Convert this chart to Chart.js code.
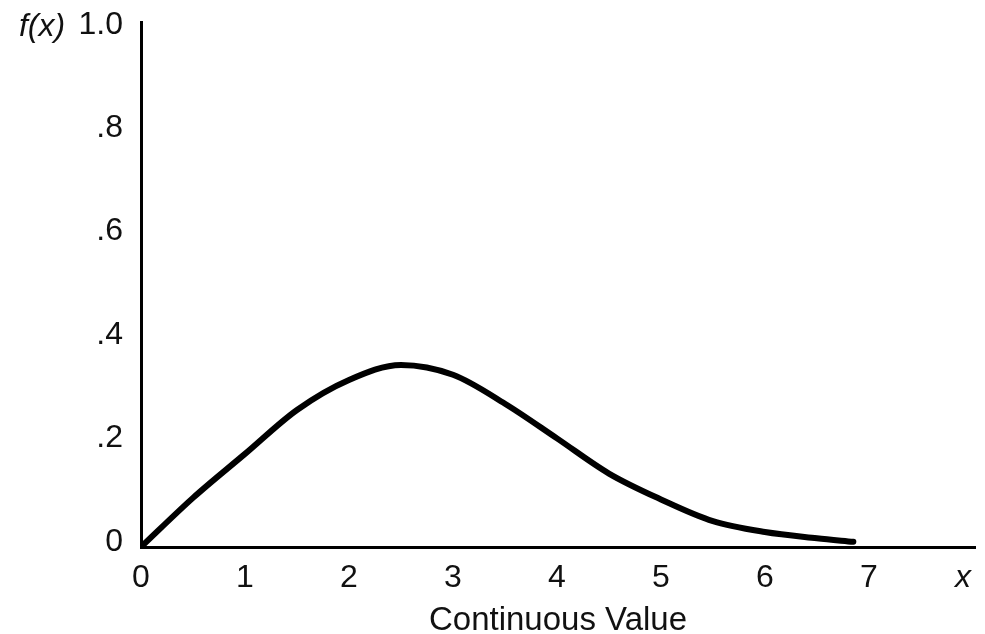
<!DOCTYPE html>
<html>
<head>
<meta charset="utf-8">
<script src="https://cdn.jsdelivr.net/npm/chart.js@4"></script>
<style>
  html, body { margin: 0; padding: 0; background: #fff; }
  #wrap { width: 985px; height: 634px; position: relative; }
</style>
</head>
<body>
<div id="wrap"><canvas id="chart"></canvas></div>
<script>
'use strict';

// ── Data ─────────────────────────────────────────────────────────────────────
const xValues = [0, 0.5, 1, 1.5, 2, 2.5, 3, 3.5, 4, 4.5, 5, 5.5, 6, 6.5, 6.85];
const fValues = [0, 0.095, 0.18, 0.265, 0.323, 0.352, 0.333, 0.277, 0.21, 0.142, 0.092, 0.05, 0.029, 0.017, 0.01];
const xTicks = [0, 1, 2, 3, 4, 5, 6, 7, 8];
const yTicks = [0, 0.2, 0.4, 0.6, 0.8, 1.0];
const yTickLabels = ['0', '.2', '.4', '.6', '.8', '1.0'];

const FONT = '"Liberation Sans", Arial, Helvetica, sans-serif';

// ── Italic axis symbols: f(x) and x ──────────────────────────────────────────
const symbolLabels = {
  id: 'symbolLabels',
  afterDraw(chart) {
    const { ctx, scales: { x, y } } = chart;
    ctx.save();
    ctx.fillStyle = '#111';
    ctx.font = 'italic 32px ' + FONT;
    ctx.textBaseline = 'middle';
    ctx.textAlign = 'center';
    ctx.fillText('f(x)', 42, y.getPixelForValue(1.0) - 3);
    ctx.fillText('x', x.getPixelForValue(8) - 10, 578);
    ctx.restore();
  }
};

new Chart(document.getElementById('chart').getContext('2d'), {
  type: 'line',
  data: {
    datasets: [{
      data: xValues.map((v, i) => ({ x: v, y: fValues[i] })),
      borderColor: '#000',
      borderWidth: 6,
      borderCapStyle: 'round',
      borderJoinStyle: 'round',
      cubicInterpolationMode: 'monotone',
      pointRadius: 0,
      fill: false,
    }],
  },
  options: {
    responsive: true,
    maintainAspectRatio: false,
    animation: false,
    layout: { padding: { left: 0, right: 10, top: 22, bottom: 0 } },
    plugins: { legend: { display: false }, tooltip: { enabled: false } },
    scales: {
      x: {
        type: 'linear',
        min: 0,
        max: 8.02,
        afterBuildTicks: s => { s.ticks = xTicks.map(v => ({ value: v })); },
        afterFit: s => { s.height = 87; s.paddingLeft = 0; s.paddingRight = 0; },
        grid: { display: false, drawTicks: false },
        border: { display: true, color: '#000', width: 3 },
        ticks: {
          color: '#111',
          font: { family: FONT, size: 32 },
          padding: 12,
          maxRotation: 0,
          callback: v => (v === 8 ? '' : String(v)),
        },
        title: {
          display: true,
          text: 'Continuous Value',
          color: '#111',
          font: { family: FONT, size: 33, lineHeight: 0.8 },
          padding: { top: 0, bottom: 0 },
        },
      },
      y: {
        min: 0,
        max: 1.015,
        afterBuildTicks: s => { s.ticks = yTicks.map(v => ({ value: v })); },
        afterFit: s => { s.width = 141; s.paddingTop = 0; s.paddingBottom = 0; },
        grid: { display: false, drawTicks: false },
        border: { display: true, color: '#000', width: 3 },
        ticks: {
          color: '#111',
          font: { family: FONT, size: 32 },
          padding: 18,
          labelOffset: -5,
          callback: v => yTickLabels[yTicks.indexOf(v)] ?? '',
        },
      },
    },
  },
  plugins: [symbolLabels],
});
</script>
</body>
</html>
